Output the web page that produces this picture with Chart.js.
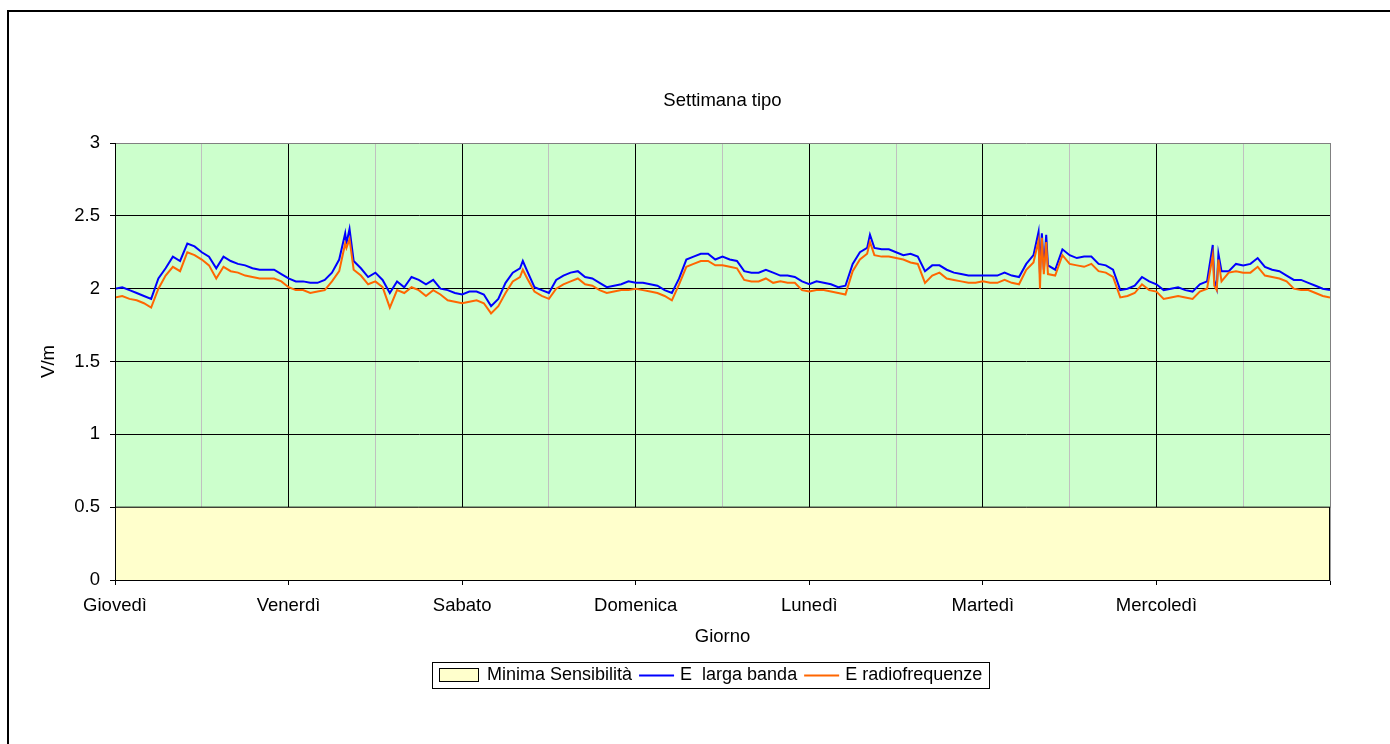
<!DOCTYPE html>
<html>
<head>
<meta charset="utf-8">
<script src="https://cdn.jsdelivr.net/npm/chart.js@4"></script>
<style>
html,body{margin:0;padding:0;background:#fff;}
#wrap{width:1390px;height:744px;position:relative;}
</style>
</head>
<body>
<div id="wrap"><canvas id="c" width="1390" height="744"></canvas></div>
<script>
// ---- DATA ----
const dayLabels = ['Giovedì','Venerdì','Sabato','Domenica','Lunedì','Martedì','Mercoledì'];
const yTicks = [0, 0.5, 1, 1.5, 2, 2.5, 3];
const seriesNames = ['Minima Sensibilità', 'E  larga banda', 'E radiofrequenze'];
const minimaSensibilita = [0.5, 0.5];          // at hour 0 and hour 168
// hourly values (hour 0 .. 168)
const eLargaBanda = [
  // Giovedì
  2.00,2.01,1.99,1.97,1.95,1.93,2.07,2.14,2.22,2.19,2.31,2.29,2.25,2.22,2.14,2.22,2.19,2.17,2.16,2.14,2.13,2.13,2.13,2.10,
  // Venerdì
  2.07,2.05,2.05,2.04,2.04,2.06,2.11,2.20,2.31,2.19,2.14,2.08,2.11,2.06,1.97,2.05,2.01,2.08,2.06,2.03,2.06,2.00,1.99,1.97,
  // Sabato
  1.96,1.98,1.98,1.96,1.88,1.93,2.04,2.11,2.14,2.12,2.01,1.99,1.97,2.06,2.09,2.11,2.12,2.08,2.07,2.04,2.01,2.02,2.03,2.05,
  // Domenica
  2.04,2.04,2.03,2.02,1.99,1.97,2.07,2.20,2.22,2.24,2.24,2.20,2.22,2.20,2.19,2.12,2.11,2.11,2.13,2.11,2.09,2.09,2.08,2.05,
  // Lunedì
  2.03,2.05,2.04,2.03,2.01,2.02,2.17,2.25,2.28,2.28,2.27,2.27,2.25,2.23,2.24,2.22,2.12,2.16,2.16,2.13,2.11,2.10,2.09,2.09,
  // Martedì
  2.09,2.09,2.09,2.11,2.09,2.08,2.17,2.23,2.24,2.16,2.13,2.27,2.23,2.21,2.22,2.22,2.17,2.16,2.13,1.99,2.00,2.02,2.08,2.05,
  // Mercoledì
  2.03,1.99,2.00,2.01,1.99,1.98,2.03,2.05,2.06,2.12,2.12,2.17,2.16,2.17,2.21,2.15,2.13,2.12,2.09,2.06,2.06,2.04,2.02,2.00,
  1.99
];
const eRadiofrequenze = [
  // Giovedì
  1.94,1.95,1.93,1.92,1.90,1.87,2.00,2.09,2.15,2.12,2.25,2.23,2.20,2.16,2.07,2.15,2.12,2.11,2.09,2.08,2.07,2.07,2.07,2.05,
  // Venerdì
  2.01,1.99,1.99,1.97,1.98,1.99,2.05,2.12,2.28,2.13,2.09,2.03,2.05,2.01,1.87,1.99,1.97,2.01,1.99,1.95,1.99,1.96,1.92,1.91,
  // Sabato
  1.90,1.91,1.92,1.90,1.83,1.88,1.97,2.05,2.08,2.07,1.98,1.95,1.93,2.00,2.03,2.05,2.07,2.03,2.02,1.99,1.97,1.98,1.99,1.99,
  // Domenica
  2.00,1.99,1.98,1.97,1.95,1.92,2.03,2.15,2.17,2.19,2.19,2.16,2.16,2.15,2.14,2.06,2.05,2.05,2.07,2.04,2.05,2.04,2.04,1.99,
  // Lunedì
  1.98,1.99,1.99,1.98,1.97,1.96,2.12,2.20,2.24,2.23,2.22,2.22,2.21,2.20,2.18,2.17,2.04,2.09,2.11,2.07,2.06,2.05,2.04,2.04,
  // Martedì
  2.05,2.04,2.04,2.06,2.04,2.03,2.13,2.18,2.17,2.10,2.09,2.23,2.17,2.16,2.15,2.17,2.12,2.11,2.08,1.94,1.95,1.97,2.03,1.99,
  // Mercoledì
  1.98,1.93,1.94,1.95,1.94,1.93,1.98,2.00,2.02,2.05,2.11,2.12,2.11,2.11,2.15,2.09,2.08,2.07,2.05,2.00,1.99,1.99,1.97,1.95,
  1.94
];
// short spikes between the hourly readings (hour of week, values)
const spikeHours = [31.83, 32.43, 56.39, 104.39, 127.7, 127.9, 128.16, 128.43, 128.76, 151.79, 152.34, 152.57];
const spikeLarga = [2.38, 2.41, 2.19, 2.37, 2.39, 2.10, 2.38, 2.13, 2.37, 2.30, 2.00, 2.24];
const spikeRadio = [2.31, 2.34, 2.13, 2.32, 2.33, 2.00, 2.35, 2.10, 2.32, 2.23, 1.99, 2.20];

// ---- build point tables ----
function buildPoints(hourly, spikes) {
  const pts = hourly.map((v, i) => ({x: i, y: v}));
  spikeHours.forEach((h, i) => pts.push({x: h, y: spikes[i]}));
  pts.sort((a, b) => a.x - b.x);
  return pts;
}
const HOURS = 168;
const FONT = "'Liberation Sans', Arial, sans-serif";
const TXT = 18.5;
Chart.defaults.font.family = FONT;
Chart.defaults.color = '#000';

const decor = {
  id: 'decor',
  beforeDraw(chart) {
    const c = chart.ctx, a = chart.chartArea;
    c.save();
    c.fillStyle = '#fff';
    c.fillRect(0, 0, chart.width, chart.height);
    c.fillStyle = '#CCFFCC';
    c.fillRect(a.left, a.top, a.right - a.left, a.bottom - a.top);
    c.restore();
  },
  afterDatasetsDraw(chart) {
    const c = chart.ctx, a = chart.chartArea;
    const xs = chart.scales.x, ys = chart.scales.y;
    const yMin = ys.getPixelForValue(minimaSensibilita[1]);
    const xr = xs.getPixelForValue(HOURS);
    c.save();
    c.strokeStyle = '#000';
    c.lineWidth = 1;
    c.beginPath();
    c.moveTo(a.left, Math.round(ys.getPixelForValue(0)) + 0.5);
    c.lineTo(a.right, Math.round(ys.getPixelForValue(0)) + 0.5);
    c.moveTo(Math.round(a.left) + 0.5, a.top);
    c.lineTo(Math.round(a.left) + 0.5, a.bottom);
    c.moveTo(Math.round(xr) - 0.5, yMin);
    c.lineTo(Math.round(xr) - 0.5, a.bottom);
    c.stroke();
    c.strokeStyle = '#999';
    c.beginPath();
    c.moveTo(Math.round(xr) + 0.5, yMin + 1);
    c.lineTo(Math.round(xr) + 0.5, a.bottom + 1);
    c.stroke();
    c.restore();
  },
  afterDraw(chart) {
    const c = chart.ctx, a = chart.chartArea;
    const cx = (a.left + a.right) / 2;
    c.save();
    // outer frame
    c.strokeStyle = '#000';
    c.lineWidth = 2;
    c.strokeRect(8, 11, 1400, 760);
    c.fillStyle = '#000';
    c.textAlign = 'center';
    c.textBaseline = 'middle';
    c.font = TXT + 'px ' + FONT;
    c.fillText('Settimana tipo', cx, 101);
    c.fillText('Giorno', cx, 637);
    c.save();
    c.translate(49, (a.top + a.bottom) / 2);
    c.rotate(-Math.PI / 2);
    c.fillText('V/m', 0, 0);
    c.restore();
    // legend (items laid out from measured text)
    c.font = '18px ' + FONT;
    const w0 = c.measureText(seriesNames[0]).width;
    const w1 = c.measureText(seriesNames[1]).width;
    const w2 = c.measureText(seriesNames[2]).width;
    const sw = 40, gapT = 8, gapL = 7, lineL = 35, pad = 7;
    const total = pad + sw + gapT + w0 + gapL + lineL + 6 + w1 + gapL + lineL + 6 + w2 + pad;
    const lx = Math.round(710.5 - total / 2), ly = 662, lh = 26;
    c.lineWidth = 1;
    c.strokeStyle = '#000';
    c.fillStyle = '#fff';
    c.fillRect(lx, ly, total, lh);
    c.strokeRect(lx + 0.5, ly + 0.5, Math.round(total), lh);
    const my = ly + lh / 2 + 0.5;
    let x = lx + pad;
    c.fillStyle = '#FFFFCC';
    c.fillRect(x + 0.5, 668.5, sw - 1, 13);
    c.strokeRect(x + 0.5, 668.5, sw - 1, 13);
    x += sw + gapT;
    c.textAlign = 'left';
    c.fillStyle = '#000';
    c.fillText(seriesNames[0], x, my);
    x += w0 + gapL;
    c.lineWidth = 2;
    c.strokeStyle = '#0000FF';
    c.beginPath(); c.moveTo(x, my); c.lineTo(x + lineL, my); c.stroke();
    x += lineL + 6;
    c.fillText(seriesNames[1], x, my);
    x += w1 + gapL;
    c.strokeStyle = '#FF6600';
    c.beginPath(); c.moveTo(x, my); c.lineTo(x + lineL, my); c.stroke();
    x += lineL + 6;
    c.fillText(seriesNames[2], x, my);
    c.restore();
  }
};

new Chart(document.getElementById('c'), {
  type: 'line',
  data: {
    datasets: [
      {
        label: seriesNames[0],
        data: minimaSensibilita.map((v, i) => ({x: i * HOURS, y: v})),
        backgroundColor: '#FFFFCC',
        borderColor: '#000',
        borderWidth: 1,
        fill: 'origin',
        pointRadius: 0,
        order: 3
      },
      {
        label: seriesNames[1],
        data: buildPoints(eLargaBanda, spikeLarga),
        borderColor: '#0000FF',
        borderWidth: 2,
        fill: false,
        pointRadius: 0,
        tension: 0,
        order: 2
      },
      {
        label: seriesNames[2],
        data: buildPoints(eRadiofrequenze, spikeRadio),
        borderColor: '#FF6600',
        borderWidth: 2,
        fill: false,
        pointRadius: 0,
        tension: 0,
        order: 1
      }
    ]
  },
  options: {
    responsive: false,
    animation: false,
    events: [],
    layout: {padding: {left: 0, top: 143, right: 60, bottom: 0}},
    plugins: {legend: {display: false}, title: {display: false}, tooltip: {enabled: false}},
    scales: {
      x: {
        type: 'linear',
        min: 0,
        max: HOURS,
        afterFit: s => { s.height = 164; },
        afterBuildTicks: s => { s.ticks = Array.from({length: 15}, (_, i) => ({value: i * 12})); },
        ticks: {
          autoSkip: false,
          maxRotation: 0,
          padding: 10,
          font: {size: TXT},
          color: '#000',
          callback: v => (v % 24 === 0 && v < HOURS) ? dayLabels[v / 24] : ''
        },
        grid: {
          color: ctx => ctx.tick.value === HOURS ? '#808080' : (ctx.tick.value % 24 === 0 ? '#000' : '#C0C0C0'),
          tickColor: ctx => ctx.tick.value % 24 === 0 ? '#000' : 'rgba(0,0,0,0)',
          tickLength: 5,
          lineWidth: 1
        },
        border: {display: true, color: '#000'}
      },
      y: {
        min: 0,
        max: 3,
        afterFit: s => { s.width = 115; },
        afterBuildTicks: s => { s.ticks = yTicks.map(v => ({value: v})); },
        ticks: {
          padding: 10,
          font: {size: TXT},
          color: '#000',
          callback: v => String(v)
        },
        grid: {
          color: ctx => ctx.tick.value === 3 ? '#808080' : '#000',
          tickColor: '#000',
          tickLength: 5,
          lineWidth: 1
        },
        border: {display: true, color: '#000'}
      }
    }
  },
  plugins: [decor]
});
</script>
</body>
</html>
